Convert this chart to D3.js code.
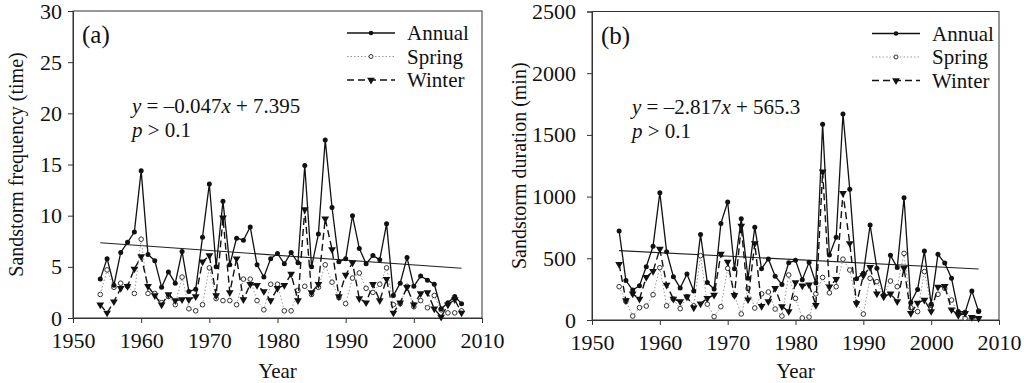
<!DOCTYPE html>
<html><head><meta charset="utf-8">
<script src="https://cdn.jsdelivr.net/npm/d3@7"></script>
<style>body{margin:0;background:#fff;} svg{display:block;} text{font-family:"Liberation Serif","Times New Roman",serif;fill:#111;}</style>
</head><body><svg id="c" width="1024" height="383"></svg>
<script>
const years = d3.range(1954, 2008);
const xTicks = [1950,1960,1970,1980,1990,2000,2010];
const yTicksA = [0,5,10,15,20,25,30];
const yTicksB = [0,500,1000,1500,2000,2500];
const seriesNames = ["Annual","Spring","Winter"];

const annualFreq = [3.8,5.8,3.2,6.4,7.4,8.4,14.4,6.2,5.6,3.0,4.5,3.4,6.5,2.6,2.8,7.9,13.1,5.0,11.4,5.2,7.8,7.6,8.9,5.2,4.0,5.8,6.3,5.3,6.4,5.4,14.9,5.0,8.2,17.4,10.8,5.5,5.8,10.0,6.8,5.3,6.1,5.7,9.2,2.2,3.4,5.9,3.1,4.1,3.7,3.3,0.9,1.5,2.1,1.4];
const springFreq = [2.3,4.7,3.0,3.4,3.1,2.4,7.7,2.4,2.4,1.5,2.1,1.3,4.0,0.9,0.7,1.3,4.9,1.9,1.7,1.7,1.3,3.8,3.8,1.7,0.8,3.3,3.3,0.7,0.7,2.7,3.1,2.3,3.0,5.2,3.5,2.0,1.4,3.9,4.4,2.9,2.5,3.3,4.9,1.3,1.4,3.1,1.1,1.7,1.0,2.2,0.8,0.5,0.5,0.7];
const winterFreq = [1.3,0.5,1.6,2.9,3.1,4.8,6.0,3.1,2.2,1.3,2.3,1.7,1.8,1.8,2.1,5.5,6.1,2.2,9.8,2.5,5.8,1.8,3.3,3.2,2.6,1.7,2.9,3.2,4.3,1.7,10.6,2.5,3.3,9.7,6.7,2.1,4.2,5.4,1.9,1.5,3.3,1.7,3.8,0.5,1.5,3.0,1.3,2.4,2.5,0.9,0.1,1.3,1.8,0.5];

const annualDur = [721,320,243,278,432,597,1032,554,351,260,372,235,692,303,251,783,956,415,821,338,751,415,495,355,288,463,484,327,467,300,1586,527,670,1669,1059,334,378,770,420,200,524,425,991,142,248,559,128,532,462,338,69,62,236,68];
const springDur = [270,150,32,100,113,205,424,115,170,92,190,115,521,128,27,108,419,200,49,256,97,212,227,89,32,365,175,16,24,212,345,220,270,493,405,140,48,338,311,200,316,270,540,100,68,392,120,208,257,162,54,14,14,73];
const winterDur = [452,158,212,170,347,395,575,284,170,150,189,100,132,176,203,535,470,200,762,165,621,112,150,257,110,70,304,277,285,120,1202,270,330,1027,621,134,360,428,212,189,212,150,419,54,138,162,70,268,274,84,38,54,23,14];

const trendA = {slope:-0.047, intercept:7.395};
const trendB = {slope:-2.817, intercept:565.3};

const FONT = "'Liberation Serif', 'Times New Roman', serif";
const svg = d3.select("#c");

function panel(o){
  const g = svg.append("g");
  const x = d3.scaleLinear().domain([1950,2010]).range([o.left,o.right]);
  const y = d3.scaleLinear().domain([0,o.ymax]).range([o.bottom,o.top]);
  g.append("rect").attr("x",o.left).attr("y",o.top).attr("width",o.right-o.left).attr("height",o.bottom-o.top)
    .attr("fill","none").attr("stroke","#333").attr("stroke-width",1);
  const ax = g.append("g").attr("transform",`translate(0,${o.bottom})`)
    .call(d3.axisBottom(x).tickValues(xTicks).tickFormat(d3.format("d")).tickSize(5).tickPadding(9));
  const ay = g.append("g").attr("transform",`translate(${o.left},0)`)
    .call(d3.axisLeft(y).tickValues(o.yticks).tickFormat(d3.format("d")).tickSize(5).tickPadding(o.ypad));
  [ax,ay].forEach(a=>{a.attr("font-family",null).attr("font-size",null);
    a.select(".domain").attr("stroke","#333");a.selectAll("line").attr("stroke","#333");
    a.selectAll("text").style("font-size","22px").attr("fill","#111");});
  g.append("text").attr("x",(o.left+o.right)/2).attr("y",378).attr("text-anchor","middle").style("font-size","21px").text("Year");
  g.append("text").attr("transform",`translate(${o.ytx},${(o.top+o.bottom)/2}) rotate(-90)`).attr("text-anchor","middle")
    .attr("dy","0.35em").style("font-size","20px").text(o.ylabel);
  const tx = [years[0], years[years.length-1]];
  g.append("line").attr("x1",x(tx[0])).attr("x2",x(tx[1]))
    .attr("y1",y(o.trend.intercept+o.trend.slope*(tx[0]-1953))).attr("y2",y(o.trend.intercept+o.trend.slope*(tx[1]-1953)))
    .attr("stroke","#222").attr("stroke-width",1.1);
  const line = d3.line().x((d,i)=>x(years[i])).y(d=>y(d));
  g.append("path").attr("d",line(o.spring)).attr("fill","none").attr("stroke","#999").attr("stroke-width",1).attr("stroke-dasharray","1.5,2");
  g.selectAll(".sp").data(o.spring).enter().append("circle").attr("cx",(d,i)=>x(years[i])).attr("cy",d=>y(d)).attr("r",2.3)
    .attr("fill","#fff").attr("stroke","#333").attr("stroke-width",1);
  g.append("path").attr("d",line(o.winter)).attr("fill","none").attr("stroke","#111").attr("stroke-width",1.4).attr("stroke-dasharray","7,4");
  const tri = d3.symbol().type(d3.symbolTriangle).size(26);
  g.selectAll(".wt").data(o.winter).enter().append("path").attr("d",tri)
    .attr("transform",(d,i)=>`translate(${x(years[i])},${y(d)}) rotate(180)`).attr("fill","#111");
  g.append("path").attr("d",line(o.annual)).attr("fill","none").attr("stroke","#111").attr("stroke-width",1.3);
  g.selectAll(".an").data(o.annual).enter().append("circle").attr("cx",(d,i)=>x(years[i])).attr("cy",d=>y(d)).attr("r",2.5).attr("fill","#111");
  g.append("text").attr("x",o.left+9).attr("y",o.top+32).style("font-size","25px").text(o.tag);
  const eq = g.append("text").attr("x",o.eqx).attr("y",o.top+102).style("font-size","21px");
  eq.append("tspan").style("font-style","italic").text("y");
  eq.append("tspan").text(" = \u2013" + Math.abs(o.trend.slope));
  eq.append("tspan").style("font-style","italic").text("x");
  eq.append("tspan").text(" + " + o.trend.intercept);
  const pt = g.append("text").attr("x",o.eqx).attr("y",o.top+126).style("font-size","21px");
  pt.append("tspan").style("font-style","italic").text("p");
  pt.append("tspan").text(" > 0.1");
  const lg = g.append("g");
  seriesNames.forEach((s,i)=>{
    const yy = o.top + 22 + i*23.5;
    const l = lg.append("line").attr("x1",o.legx).attr("x2",o.legx+48).attr("y1",yy).attr("y2",yy);
    const mx = o.legx+24;
    if(i===0){ l.attr("stroke","#111").attr("stroke-width",1.3);
      lg.append("circle").attr("cx",mx).attr("cy",yy).attr("r",2.3).attr("fill","#111"); }
    else if(i===1){ l.attr("stroke","#999").attr("stroke-dasharray","1.5,2");
      lg.append("circle").attr("cx",mx).attr("cy",yy).attr("r",2).attr("fill","#fff").attr("stroke","#333"); }
    else { l.attr("stroke","#111").attr("stroke-width",1.4).attr("stroke-dasharray","7,4");
      lg.append("path").attr("d",tri).attr("transform",`translate(${mx},${yy}) rotate(180)`).attr("fill","#111"); }
    lg.append("text").attr("x",o.legx+60).attr("y",yy+7).style("font-size","21px").text(s);
  });
}

panel({left:73,right:482,top:11,bottom:318,ymax:30,yticks:yTicksA,ypad:6,ylabel:"Sandstorm frequency (time)",ytx:16,
  annual:annualFreq,spring:springFreq,winter:winterFreq,trend:trendA,tag:"(a)",eqx:132,legx:347});
panel({left:592,right:999,top:11.5,bottom:320,ymax:2500,yticks:yTicksB,ypad:11,ylabel:"Sandstorm duration (min)",ytx:519,
  annual:annualDur,spring:springDur,winter:winterDur,trend:trendB,tag:"(b)",eqx:632,legx:872});
svg.selectAll("text").style("font-family",FONT);
</script></body></html>
